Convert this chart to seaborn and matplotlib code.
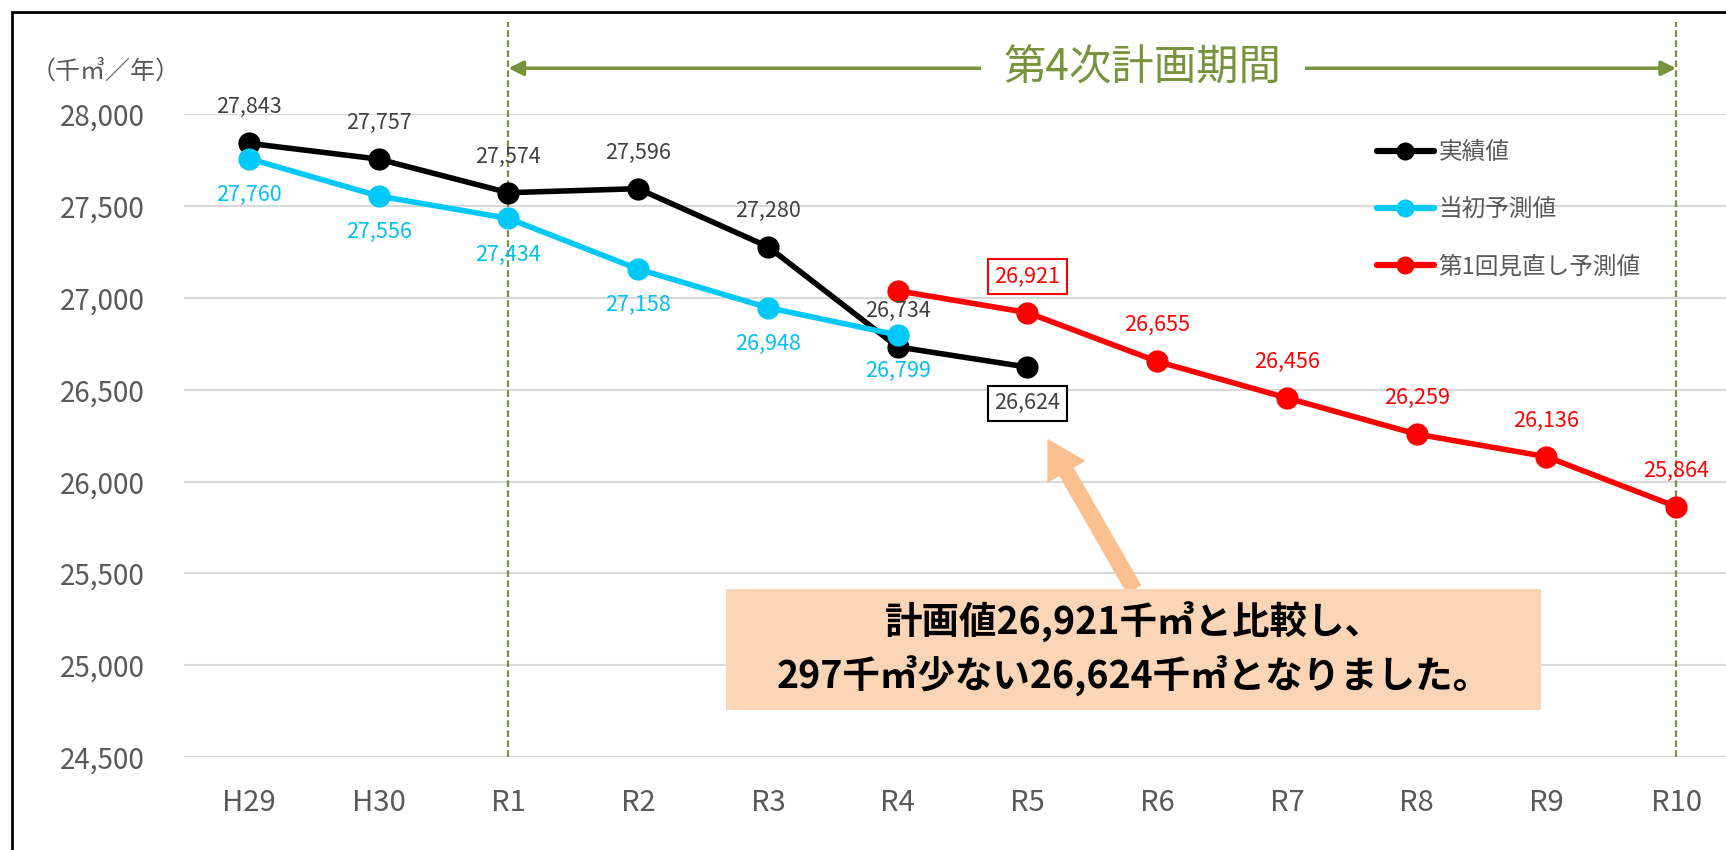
import seaborn as sns
import matplotlib.pyplot as plt
import pandas as pd
from matplotlib.patches import Rectangle
from matplotlib.lines import Line2D
from matplotlib.ticker import FixedLocator, FuncFormatter

# categories on the x axis
years = ['H29', 'H30', 'R1', 'R2', 'R3', 'R4', 'R5', 'R6', 'R7', 'R8', 'R9', 'R10']

# series (千㎥/年)
actual_years = ['H29', 'H30', 'R1', 'R2', 'R3', 'R4', 'R5']
actual_values = [27843, 27757, 27574, 27596, 27280, 26734, 26624]

initial_years = ['H29', 'H30', 'R1', 'R2', 'R3', 'R4']
initial_values = [27760, 27556, 27434, 27158, 26948, 26799]

revised_years = ['R4', 'R5', 'R6', 'R7', 'R8', 'R9', 'R10']
revised_values = [27040, 26921, 26655, 26456, 26259, 26136, 25864]

series_names = ['実績値', '当初予測値', '第1回見直し予測値']
series_colors = ['#000000', '#00C8F8', '#FF0000']
label_colors = ['#404040', '#00C0F0', '#FF0000']
box_colors = ['#000000', '#00C0F0', '#FF0000']

y_ticks = [24500, 25000, 25500, 26000, 26500, 27000, 27500, 28000]

unit_label = '（千㎥／年）'
period_start, period_end = 'R1', 'R10'
period_label = '第4次計画期間'
boxed_year = 'R5'
note_text = '計画値26,921千㎥と比較し、\n297千㎥少ない26,624千㎥となりました。'

green = '#77933C'
grid_gray = '#D9D9D9'
text_gray = '#595959'
peach = '#FBD5B5'
peach_arrow = '#FAC090'

sns.set_style('white')
plt.rcParams['font.family'] = ['Noto Sans CJK JP', 'DejaVu Sans']

# long table for seaborn
frames = []
for name, yrs, vals in zip(series_names, [actual_years, initial_years, revised_years],
                           [actual_values, initial_values, revised_values]):
    frames.append(pd.DataFrame({'年度': yrs, 'x': [years.index(y) for y in yrs],
                                '値': vals, '系列': name}))
df = pd.concat(frames, ignore_index=True)

fig = plt.figure(figsize=(17.26, 8.5), dpi=100)
ax = fig.add_axes([0.1066, 0.1094, 0.9021, 0.7559])

sns.lineplot(data=df, x='x', y='値', hue='系列', hue_order=series_names,
             palette=dict(zip(series_names, series_colors)), marker='o',
             markersize=16, markeredgewidth=0, linewidth=4, legend=False,
             estimator=None, sort=False, ax=ax)

ax.set_xlim(-0.5, len(years) - 0.5)
ax.set_ylim(y_ticks[0], y_ticks[-1])
ax.set_xlabel('')
ax.set_ylabel('')
sns.despine(ax=ax, left=True, bottom=True)

ax.set_yticks(y_ticks)
ax.yaxis.set_major_formatter(FuncFormatter(lambda v, p: f'{int(v):,}'))
ax.grid(axis='y', color=grid_gray, lw=1.5)
ax.set_axisbelow(True)
ax.tick_params(axis='y', length=0, pad=28, labelsize=20, labelcolor=text_gray)

ax.set_xticks(range(len(years)), years)
ax.xaxis.set_minor_locator(FixedLocator([i - 0.5 for i in range(len(years) + 1)]))
ax.tick_params(axis='x', which='major', length=0, pad=22, labelsize=21, labelcolor=text_gray)
ax.tick_params(axis='x', which='minor', direction='in', length=7, width=1.5, color=grid_gray)


# data labels
def put_labels(yrs, vals, color, edge, above, skip=()):
    for y, v in zip(yrs, vals):
        if y in skip:
            continue
        up = above(y)
        box = None
        if y == boxed_year:
            box = dict(boxstyle='square,pad=0.3', fc='white', ec=edge, lw=1.5)
        ax.annotate(f'{v:,}', xy=(years.index(y), v), xytext=(0, 26 if up else -26),
                    textcoords='offset points', ha='center', va='center',
                    fontsize=15.5, color=color, bbox=box, zorder=6)


put_labels(actual_years, actual_values, label_colors[0], box_colors[0], lambda y: y != boxed_year)
put_labels(initial_years, initial_values, label_colors[1], box_colors[1], lambda y: False)
put_labels(revised_years, revised_values, label_colors[2], box_colors[2], lambda y: True,
           skip=(revised_years[0],))

# plan period markers
xtr = ax.get_xaxis_transform()
for yr in (period_start, period_end):
    ax.axvline(years.index(yr), ymin=0, ymax=1.144, color=green, lw=1.6,
               ls=(0, (3, 1.5)), clip_on=False, zorder=1)
ax.annotate('', xy=(years.index(period_start), 1.072), xytext=(years.index(period_end), 1.072),
            xycoords=xtr, textcoords=xtr, annotation_clip=False,
            arrowprops=dict(arrowstyle='<|-|>', color=green, lw=2.5, mutation_scale=22,
                            shrinkA=0, shrinkB=0))
ax.text(6.89, 1.072, period_label, transform=xtr, ha='center', va='center',
        fontsize=30.5, color=green, zorder=5,
        bbox=dict(boxstyle='square,pad=0.55', fc='white', ec='none'))

# note box with arrow
ax.annotate('', xy=(6.16, 26227), xytext=(6.82, 25416),
            arrowprops=dict(arrowstyle='simple,head_length=1.3,head_width=1.5,tail_width=0.55',
                            mutation_scale=20, color=peach_arrow, shrinkA=0, shrinkB=0), zorder=4)
ax.add_patch(Rectangle((3.68, 24757), 6.28, 659, fc=peach, ec='none', zorder=5))
ax.text(6.82, 25087, note_text, ha='center', va='center', fontsize=27,
        fontweight='bold', color='black', linespacing=1.4, zorder=6)

# legend
handles = [Line2D([], [], color=c, lw=4.5, marker='o', markersize=13, markeredgewidth=0)
           for c in series_colors]
fig.legend(handles, series_names, loc='upper left', bbox_to_anchor=(1377 / 1726, 1 - 141 / 850),
           frameon=False, fontsize=17, labelcolor=text_gray, handlelength=2.4,
           handletextpad=0.2, labelspacing=1.45, borderpad=0, borderaxespad=0)

fig.text(31 / 1726, 1 - 72 / 850, unit_label, ha='left', va='center', fontsize=18, color=text_gray)

# outer frame
fig.add_artist(Rectangle((12 / 1726, -0.05), 1.1, 1.05 - 12 / 850, transform=fig.transFigure,
                         fill=False, ec='black', lw=2))

fig.savefig('out.png', dpi=100)
